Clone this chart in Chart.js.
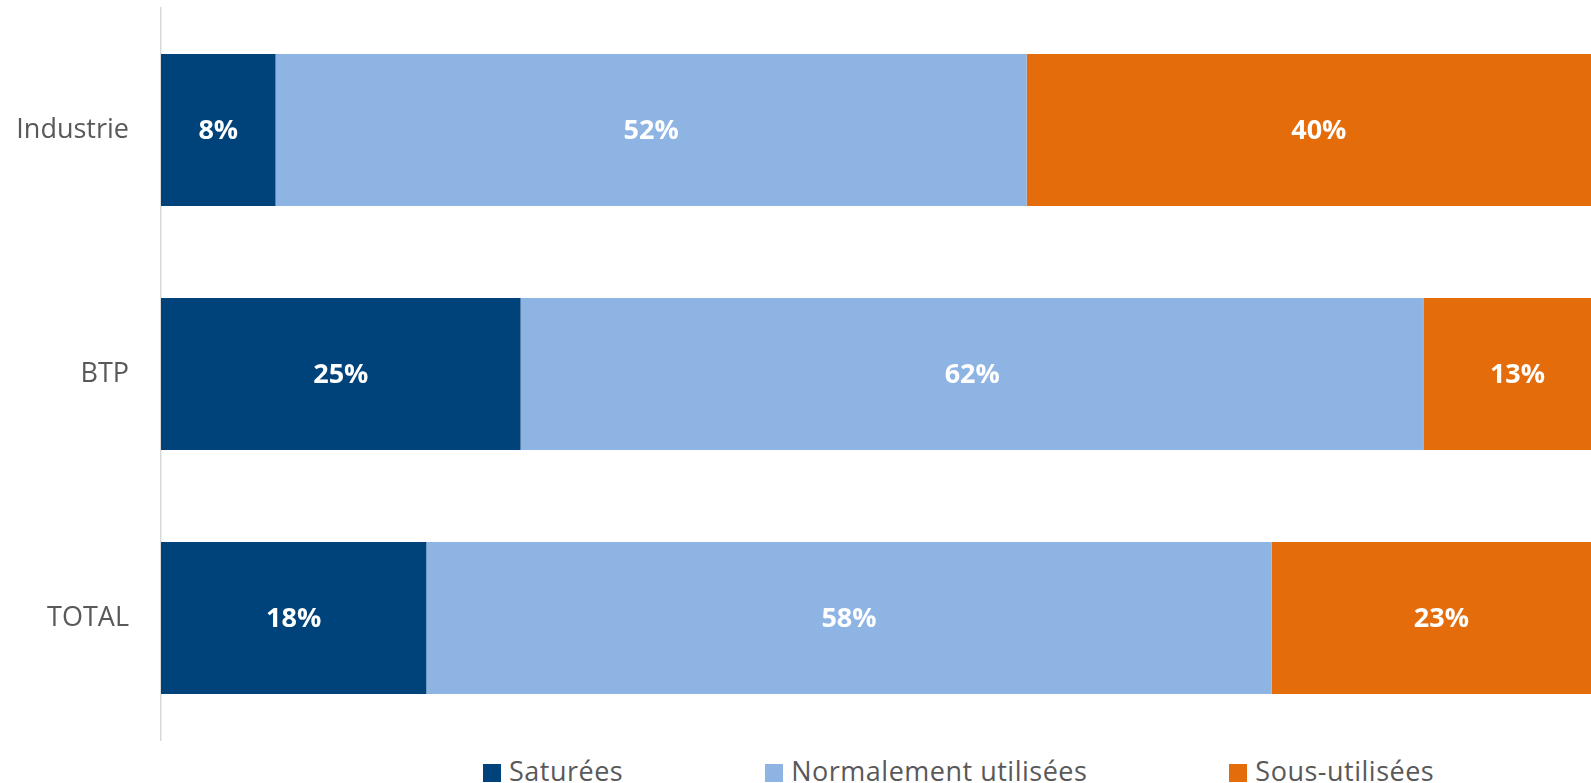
<!DOCTYPE html>
<html>
<head>
  <title>Capacités de production</title>
  <meta name="viewport" content="width=device-width, initial-scale=1.0">
  <style>
    html, body {
      margin: 0;
      padding: 0;
      width: 1591px;
      height: 783px;
      overflow: hidden;
      background: #fff;
      font-family: "Open Sans", sans-serif;
    }

    #chartBox {
      position: absolute;
      left: 0;
      top: 0;
      width: 1611px;
      height: 745px;
    }

    #legend {
      position: absolute;
      left: 483px;
      top: 757px;
      display: flex;
      gap: 142px;
      font-size: 27px;
      line-height: 27px;
      letter-spacing: 0.5px;
      color: #595959;
      white-space: nowrap;
    }

    #legend .item {
      display: flex;
      align-items: center;
    }

    #legend .box {
      width: 18px;
      height: 18px;
      margin-right: 8px;
      position: relative;
      top: 2px;
    }
  </style>
</head>
<body>
  <div id="chartBox"><canvas id="chart"></canvas></div>
  <div id="legend"></div>

  <script src="https://cdn.jsdelivr.net/npm/chart.js"></script>
  <script>
    const categories = ['Industrie', 'BTP', 'TOTAL'];
    const seriesNames = ['Saturées', 'Normalement utilisées', 'Sous-utilisées'];
    const saturees = [7.9, 24.8, 18.3];
    const normales = [51.8, 62.3, 58.3];
    const sousUtilisees = [40.3, 12.9, 23.4];
    const colors = ['#00427a', '#8eb4e3', '#e46c0a'];

    // white % labels in the middle of each segment
    const barLabels = {
      id: 'barLabels',
      afterDatasetsDraw(chart) {
        const ctx = chart.ctx;
        ctx.save();
        ctx.fillStyle = '#ffffff';
        ctx.font = 'bold 27px "Open Sans"';
        ctx.textAlign = 'center';
        ctx.textBaseline = 'middle';
        chart.data.datasets.forEach((ds, i) => {
          chart.getDatasetMeta(i).data.forEach((bar, j) => {
            const p = bar.getCenterPoint();
            ctx.fillText(Math.round(ds.data[j]) + '%', p.x, p.y + 1);
          });
        });
        ctx.restore();
      }
    };

    const chart = new Chart(document.getElementById('chart'), {
      type: 'bar',
      data: {
        labels: categories,
        datasets: [
          { label: seriesNames[0], data: saturees, backgroundColor: colors[0] },
          { label: seriesNames[1], data: normales, backgroundColor: colors[1] },
          { label: seriesNames[2], data: sousUtilisees, backgroundColor: colors[2] }
        ]
      },
      options: {
        indexAxis: 'y',
        responsive: true,
        maintainAspectRatio: false,
        animation: false,
        layout: { padding: { top: 8, bottom: 5, left: 0, right: 0 } },
        datasets: {
          bar: { barPercentage: 0.623, categoryPercentage: 1 }
        },
        scales: {
          x: {
            stacked: true,
            min: 0,
            max: 100,
            display: false
          },
          y: {
            stacked: true,
            grid: { display: false, drawTicks: false },
            border: { display: true, color: '#d9d9d9', width: 1.5 },
            ticks: {
              padding: 32,
              color: '#595959',
              font: { family: 'Open Sans', size: 27 }
            },
            afterFit(scale) {
              scale.width = 161;
              scale.paddingTop = 0;
              scale.paddingBottom = 0;
            }
          }
        },
        plugins: {
          legend: { display: false },
          tooltip: { enabled: false }
        }
      },
      plugins: [barLabels]
    });

    const legend = document.getElementById('legend');
    chart.data.datasets.forEach(ds => {
      const item = document.createElement('div');
      item.className = 'item';
      const box = document.createElement('span');
      box.className = 'box';
      box.style.background = ds.backgroundColor;
      const txt = document.createElement('span');
      txt.textContent = ds.label;
      item.appendChild(box);
      item.appendChild(txt);
      legend.appendChild(item);
    });
  </script>
</body>
</html>
